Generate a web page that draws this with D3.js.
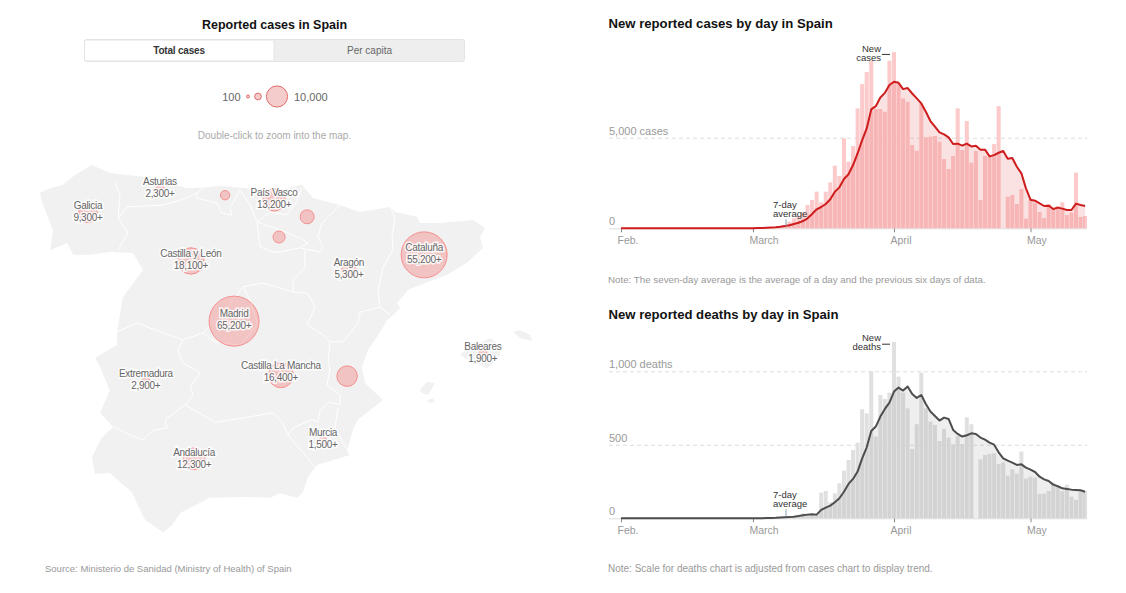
<!DOCTYPE html>
<html>
<head>
<meta charset="utf-8">
<script src="https://cdn.jsdelivr.net/npm/d3@7"></script>
<style>
html,body{margin:0;padding:0;background:#fff}
svg{display:block}
text{font-family:"Liberation Sans",Arial,sans-serif}
</style>
</head>
<body>
<svg id="c" width="1126" height="593"></svg>
<script>
// ---------- data ----------
const startDate = "2020-02-01";
const newCases = [
0,0,0,0,0,0,0,0,0,0,0,0,0,0,0,0,0,0,0,0,0,0,0,0,0,0,0,0,0,
20,40,30,50,60,60,110,184,368,550,643,864,1287,1562,2022,1434,2022,2536,3455,2886,4963,3676,4540,6617,7958,8620,9245,6580,6580,6433,9245,
9723,7995,7168,6984,4595,4283,6893,5018,5055,5091,4779,3823,3272,3988,6617,4319,5918,3621,4264,1562,3988,3952,4650,6745,0,1746,1838,1342,2169,533,
1599,1415,901,570,1342,1066,1231,1434,735,864,3069,625,680];
const avgCases = [
0,0,0,0,0,0,0,0,0,0,0,0,0,0,0,0,0,0,0,0,0,0,0,0,0,0,0,0,0,0,
10,15,25,40,55,80,125,165,240,305,400,550,790,1050,1175,1340,1600,2020,2260,2720,2980,3490,4130,4870,5510,6560,6740,7220,7475,7905,
8090,8030,7680,7740,7440,7170,6890,6430,5920,5605,5290,5180,5020,4650,4670,4560,4670,4520,4560,4340,4340,3970,4040,4170,4265,3840,3880,3400,3030,2205,
1580,1525,1380,1230,1250,1065,1140,1085,1010,1010,1360,1285,1230];
const newDeaths = [
0,0,0,0,0,0,0,0,0,0,0,0,0,0,0,0,0,0,0,0,0,0,0,0,0,0,0,0,0,
0,0,0,0,0,0,0,3,7,11,23,34,30,27,23,175,186,109,170,238,324,397,465,515,742,714,1000,556,839,812,855,
1200,964,855,748,472,640,991,748,658,635,526,608,549,503,560,506,687,640,0,401,431,438,442,370,381,290,333,304,454,270,
283,277,166,168,186,243,213,184,229,147,125,184,186];
const avgDeaths = [
0,0,0,0,0,0,0,0,0,0,0,0,0,0,0,0,0,0,0,0,0,0,0,0,0,0,0,0,0,0,
1,1,2,2,3,5,7,8,11,15,20,25,27,25,57,73,86,109,136,181,234,268,318,408,483,594,624,692,744,787,
862,889,869,896,846,819,839,778,726,696,665,685,676,601,574,556,565,578,574,549,535,515,501,449,408,392,379,363,367,345,
331,315,283,265,254,229,218,204,200,195,193,191,181];
const monthTicks = ["2020-02-01","2020-03-01","2020-04-01","2020-05-01"];
const monthLabels = ["Feb.","March","April","May"];
const casesTicks = [0,5000];
const casesTickLabels = ["0","5,000 cases"];
const deathsTicks = [0,500,1000];
const deathsTickLabels = ["0","500","1,000 deaths"];

const regionNames = ["Galicia","Asturias","País Vasco","Castilla y León","Cataluña","Madrid","Aragón","Castilla La Mancha","Extremadura","Andalucía","Murcia","Baleares","Cantabria","Navarra","La Rioja","C. Valenciana"];
const regionCases = [9300,2300,13200,18100,55200,65200,5300,16400,2900,12300,1500,1900,2300,5100,3800,11000];
const regionLon = [-7.78,-5.78,-2.61,-4.92,1.56,-3.72,-0.53,-2.42,-6.17,-4.83,-1.25,3.19,-3.97,-1.69,-2.47,-0.58];
const regionLat = [42.68,43.17,42.96,41.66,41.79,40.38,41.47,39.23,39.06,37.45,37.83,39.68,43.06,42.60,42.17,39.21];
const labelLat = [42.72,43.23,43.00,41.70,41.83,40.43,41.52,39.32,39.15,37.47,37.89,39.72];
const labelled = [1,1,1,1,1,1,1,1,1,1,1,1,0,0,0,0];
const legendValues = [100,1000,10000];

const mainland = [[-8.83,41.89],[-8.75,42.32],[-9.06,42.91],[-9.11,43.11],[-8.83,43.21],[-8.47,43.28],[-8.14,43.49],[-7.67,43.70],[-7.17,43.53],[-6.69,43.49],[-6.25,43.45],[-5.69,43.36],[-5.03,43.21],[-4.47,43.23],[-4.11,43.26],[-3.36,43.21],[-2.72,43.13],[-1.83,43.28],[-1.53,43.00],[-0.78,42.85],[-0.22,42.70],[0.61,42.81],[0.75,42.70],[1.36,42.60],[1.44,42.47],[2.00,42.47],[2.92,42.53],[3.25,42.36],[3.11,42.17],[3.19,41.94],[2.75,41.62],[2.19,41.36],[1.64,41.21],[1.11,41.04],[0.81,40.77],[0.89,40.66],[0.75,40.55],[0.53,40.40],[0.25,40.04],[0,39.77],[-0.17,39.40],[-0.08,39.06],[0.42,38.70],[0.14,38.53],[-0.28,38.28],[-0.42,38.06],[-0.58,37.64],[-0.50,37.53],[-1.42,37.32],[-1.67,37.06],[-1.81,36.74],[-1.97,36.62],[-2.44,36.72],[-2.72,36.62],[-3.47,36.64],[-4.39,36.62],[-5.22,36.30],[-5.44,36.04],[-5.69,35.89],[-6.19,36.15],[-6.42,36.51],[-6.56,36.74],[-7.17,37.15],[-7.58,37.13],[-7.67,37.49],[-7.39,37.91],[-7.08,38.13],[-7.44,38.43],[-7.17,38.91],[-7.44,39.40],[-7.58,39.60],[-6.97,39.87],[-6.97,40.15],[-6.81,40.89],[-6.25,41.47],[-6.53,41.83],[-7.17,41.85],[-7.72,41.79],[-8.19,41.79],[-8.36,42.04]];
const islands = [
[[2.75,39.81],[3.11,39.91],[3.39,40.02],[3.67,39.87],[3.67,39.66],[3.47,39.49],[3.31,39.38],[2.92,39.51],[2.56,39.66]],
[[4.03,40.15],[4.22,40.19],[4.50,40.09],[4.56,39.96],[4.22,40.02]],
[[1.44,38.91],[1.64,39.09],[1.86,39.06],[1.67,38.81],[1.50,38.85]],
[[1.64,38.70],[1.81,38.74],[1.86,38.66],[1.72,38.64]]];
const borders = [
[[-7.03,43.34],[-6.89,43.06],[-6.94,42.57],[-6.67,42.26],[-6.94,41.89]],
[[-6.94,42.57],[-6.69,42.81],[-5.69,42.85],[-5.03,43.00],[-4.75,43.11],[-4.58,43.21]],
[[-4.75,43.11],[-4.75,43.00],[-4.19,42.89],[-4.06,42.68],[-3.78,42.64],[-3.83,42.79],[-3.56,43.17]],
[[-3.56,43.17],[-3.28,42.85],[-3.08,42.49]],
[[-3.08,42.49],[-2.72,42.70],[-2.25,42.64],[-2.03,42.85],[-1.83,43.23]],
[[-3.08,42.49],[-2.44,42.32],[-1.89,42.15],[-1.67,42.04],[-1.89,41.94],[-2.44,41.85],[-2.64,41.85],[-3.00,41.96],[-3.08,42.49]],
[[-1.89,41.94],[-1.33,41.85],[-1.25,41.96],[-1.39,42.17],[-1.28,42.47],[-0.78,42.85]],
[[-1.75,41.89],[-1.75,41.53],[-2.08,41.26],[-2.08,41.00],[-1.69,40.98],[-1.47,40.68],[-1.69,40.30],[-1.25,40.09],[-1.06,39.94],[-1.11,39.55],[-1.06,39.34],[-1.14,39.02],[-0.78,38.81],[-0.78,38.60],[-1.06,38.66],[-1.33,38.49],[-1.39,38.23]],
[[-2.08,41.00],[-2.92,41.19],[-3.47,41.11],[-3.97,40.62],[-4.58,40.13],[-5.14,39.98],[-5.69,40.13],[-6.42,40.34],[-6.97,40.15]],
[[-4.58,40.13],[-4.25,39.94],[-3.56,39.87],[-3.06,40.30],[-3.28,40.83],[-3.47,41.11]],
[[0.61,42.81],[0.75,42.60],[0.67,42.17],[0.69,41.89],[0.42,41.53],[0.28,41.04],[0.33,40.68],[0.61,40.51]],
[[0.33,40.68],[-0.22,40.57],[-0.28,40.34],[-0.69,39.94],[-1.06,39.94]],
[[-0.83,38.55],[-0.92,38.11],[-0.50,37.53]],
[[-1.39,38.23],[-1.56,38.28],[-2.08,38.11],[-2.22,37.96],[-1.83,37.60],[-1.47,37.28]],
[[-5.08,38.60],[-4.25,38.23],[-3.47,38.32],[-2.64,38.43],[-2.39,38.23],[-2.22,37.96]],
[[-7.08,38.13],[-6.61,37.96],[-6.25,37.85],[-5.97,38.06],[-5.58,38.11],[-5.64,38.28],[-5.08,38.60]],
[[-5.14,39.98],[-5.28,39.77],[-5.14,39.49],[-4.67,39.28],[-4.94,38.98],[-4.86,38.81],[-5.08,38.60]]];

// ---------- helpers ----------
const svg = d3.select("#c");
const fmt = d3.format(",");
const GREY = "#999";

function txt(g, s, x, y, o = {}) {
  return g.append("text").attr("x", x).attr("y", y).text(s)
    .attr("text-anchor", o.anchor || "start")
    .attr("font-size", o.size || 11)
    .attr("font-weight", o.weight || "normal")
    .attr("letter-spacing", o.spacing || null)
    .attr("fill", o.fill || "#333");
}

// ---------- map ----------
const lonScale = d3.scaleLinear().domain([0, 1]).range([368, 404]);
const latScale = d3.scaleLinear().domain([40, 41]).range([339, 292]);
const proj = d3.geoTransform({
  point(lon, lat) { this.stream.point(lonScale(lon), latScale(lat)); }
});
const geo = d3.geoPath(proj);
const rScale = d3.scaleSqrt().domain([0, 65200]).range([0, 25]);

const left = svg.append("g");
txt(left, "Reported cases in Spain", 274.5, 29, {anchor: "middle", size: 12.5, weight: "bold", fill: "#121212"});

left.append("rect").attr("x", 84.5).attr("y", 39.5).attr("width", 380).attr("height", 22).attr("rx", 2).attr("fill", "#eee").attr("stroke", "#e4e4e4");
left.append("path").attr("d", "M274 40H86.5a2 2 0 0 0 -2 2V59a2 2 0 0 0 2 2H274Z").attr("fill", "#fff").attr("stroke", "#e4e4e4");
txt(left, "Total cases", 179, 54, {anchor: "middle", size: 10, weight: "bold", fill: "#333", spacing: -0.2});
txt(left, "Per capita", 369.5, 54, {anchor: "middle", size: 10, fill: "#666"});

txt(left, "100", 240.5, 101, {anchor: "end", size: 11, fill: "#666"});
txt(left, "10,000", 294, 101, {size: 11, fill: "#666"});
left.selectAll("circle.leg").data(legendValues).join("circle").attr("class", "leg")
  .attr("cx", (d, i) => [248, 258, 277][i])
  .attr("cy", 96.5)
  .attr("r", d => Math.max(1.5, rScale(d) * 1.08))
  .attr("fill", "#f5cccc").attr("stroke", "#e26a6a").attr("stroke-width", 1);
txt(left, "Double-click to zoom into the map.", 274.5, 139, {anchor: "middle", size: 10, fill: "#aaa"});

const mapG = svg.append("g");
const land = {type: "MultiPolygon", coordinates: [mainland, ...islands].map(r => [[...r, r[0]]])};
mapG.append("path").datum(land).attr("d", geo).attr("fill", "#f1f1f1");
mapG.append("path").datum({type: "MultiLineString", coordinates: borders}).attr("d", geo)
  .attr("fill", "none").attr("stroke", "#fff").attr("stroke-width", 1).attr("stroke-linejoin", "round");

regionNames.forEach((n, i) => {
  const cx = lonScale(regionLon[i]), cy = latScale(regionLat[i]);
  mapG.append("circle").attr("cx", cx).attr("cy", cy).attr("r", rScale(regionCases[i]))
    .attr("fill", "rgba(245,90,90,0.3)").attr("stroke", "#f59090").attr("stroke-width", 1);
});
regionNames.forEach((n, i) => {
  if (!labelled[i]) return;
  const cx = lonScale(regionLon[i]), yc = latScale(labelLat[i]);
  [[n, yc - 2], [fmt(regionCases[i]) + "+", yc + 10]].forEach(([s, y]) => {
    txt(mapG, s, cx, y, {anchor: "middle", size: 10, fill: "#666", spacing: -0.3})
      .attr("stroke", "rgba(255,255,255,0.85)").attr("stroke-width", 3).attr("paint-order", "stroke");
  });
});
txt(left, "Source: Ministerio de Sanidad (Ministry of Health) of Spain", 45, 572, {size: 9.5, fill: GREY});

// ---------- bar charts ----------
const parse = d3.utcParse("%Y-%m-%d");
const d0 = parse(startDate);
const dayAt = i => d3.utcDay.offset(d0, i);
const x = d3.scaleUtc().domain([d0, dayAt(102)]).range([621, 1085.1]);
const BAR_W = 4;

function chart(o) {
  const g = svg.append("g");
  const y = d3.scaleLinear().domain([0, o.refTick]).range([o.base, o.refY]);
  txt(g, o.title, 608.5, o.titleY, {size: 13.15, weight: "bold", fill: "#121212"});

  // gridlines and value labels
  const yAxis = d3.axisLeft(y).tickValues(o.ticks).tickSize(-478).tickFormat((d, i) => o.tickLabels[i]);
  const yG = g.append("g").attr("transform", "translate(609,0)").call(yAxis);
  yG.select(".domain").remove();
  yG.selectAll(".tick line").attr("stroke", "#ddd").attr("stroke-dasharray", d => d === 0 ? null : "4 3");
  yG.selectAll(".tick text").attr("x", 0).attr("dy", -3.5).attr("text-anchor", "start").attr("font-size", 11)
    .attr("fill", GREY).attr("font-family", '"Liberation Sans",Arial,sans-serif');

  // month axis
  const xAxis = d3.axisBottom(x).tickValues(monthTicks.map(parse)).tickSize(4).tickPadding(4)
    .tickFormat((d, i) => monthLabels[i]);
  const xG = g.append("g").attr("transform", `translate(0,${o.base})`).call(xAxis);
  xG.select(".domain").remove();
  xG.selectAll(".tick line").attr("stroke", "#888");
  xG.selectAll(".tick text").attr("x", -4).attr("text-anchor", "start").attr("font-size", 10.5)
    .attr("fill", GREY).attr("font-family", '"Liberation Sans",Arial,sans-serif');

  // bars
  g.append("g").selectAll("rect").data(o.bars).join("rect")
    .attr("x", (d, i) => x(dayAt(i)) - BAR_W / 2)
    .attr("width", BAR_W)
    .attr("y", d => y(d))
    .attr("height", d => y(0) - y(d))
    .attr("fill", o.barColor);

  // seven-day average area and line
  const area = d3.area().x((d, i) => x(dayAt(i))).y0(y(0)).y1(d => y(d));
  g.append("path").datum(o.avg).attr("d", area).attr("fill", o.areaColor);
  const line = d3.line().x((d, i) => x(dayAt(i))).y(d => y(d));
  g.append("path").datum(o.avg).attr("d", line).attr("fill", "none")
    .attr("stroke", o.lineColor).attr("stroke-width", 2).attr("stroke-linejoin", "round");

  // annotations
  const top = y(o.annotAnchor);
  txt(g, "New", 881, top - 0.5, {anchor: "end", size: 9.5, fill: "#333"});
  txt(g, o.annotWord, 881, top + 8.5, {anchor: "end", size: 9.5, fill: "#333"});
  g.append("line").attr("x1", 882).attr("x2", 890).attr("y1", top + 2.3).attr("y2", top + 2.3).attr("stroke", "#333");
  txt(g, "7-day", 773, o.base - 20, {size: 9.5, fill: "#333"});
  txt(g, "average", 773, o.base - 11, {size: 9.5, fill: "#333"});
  g.append("line").attr("x1", 786).attr("x2", 786).attr("y1", o.base - 9).attr("y2", o.base - 2).attr("stroke", "#8fa3b3");

  txt(g, o.note, 608, o.noteY, {size: o.noteSize, fill: GREY});
}

chart({
  title: "New reported cases by day in Spain", titleY: 28,
  base: 228.3, refTick: 5000, refY: 137.7,
  ticks: casesTicks, tickLabels: casesTickLabels,
  bars: newCases, avg: avgCases,
  barColor: "#fccaca", areaColor: "rgba(221,62,62,0.15)", lineColor: "#cf1d1d",
  annotAnchor: 9723, annotWord: "cases",
  note: "Note: The seven-day average is the average of a day and the previous six days of data.", noteY: 283, noteSize: 9.75
});
chart({
  title: "New reported deaths by day in Spain", titleY: 319,
  base: 518.3, refTick: 1000, refY: 371.3,
  ticks: deathsTicks, tickLabels: deathsTickLabels,
  bars: newDeaths, avg: avgDeaths,
  barColor: "#e0e0e0", areaColor: "rgba(142,142,142,0.15)", lineColor: "#4d4d4d",
  annotAnchor: 1200, annotWord: "deaths",
  note: "Note: Scale for deaths chart is adjusted from cases chart to display trend.", noteY: 572, noteSize: 10
});
</script>
</body>
</html>
